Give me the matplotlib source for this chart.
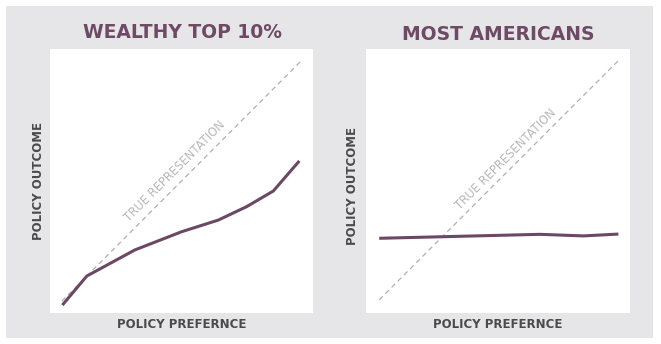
import matplotlib
matplotlib.use("Agg")
import matplotlib.pyplot as plt
from matplotlib.patches import Rectangle

# Data (normalized 0..1 preference vs outcome)
wealthy_x = [0.047, 0.140, 0.323, 0.501, 0.640, 0.748, 0.849, 0.948]
wealthy_y = [0.030, 0.140, 0.239, 0.308, 0.352, 0.403, 0.462, 0.576]
most_x = [0.050, 0.293, 0.659, 0.823, 0.956]
most_y = [0.283, 0.289, 0.298, 0.292, 0.299]
diag_left = [0.045, 0.957]
diag_right = [0.050, 0.958]

titles = ["WEALTHY TOP 10%", "MOST AMERICANS"]
xlabel = "POLICY PREFERNCE"
ylabel = "POLICY OUTCOME"
diag_text = "TRUE REPRESENTATION"

W, H = 661, 344
fig = plt.figure(figsize=(W / 100, H / 100), dpi=100)
fig.patch.set_facecolor("white")

def fx(px):
    return px / W

def fy(py):
    return 1 - py / H

# gray panel background
fig.patches.append(Rectangle((fx(6), fy(338)), fx(653) - fx(6), fy(6) - fy(338),
                             transform=fig.transFigure, facecolor="#e6e6e8",
                             edgecolor="none", zorder=-10))

purple = "#6b4863"
title_col = "#6e4a66"
label_col = "#4a4a4a"
font = ["DejaVu Sans"]

panels = [
    dict(box=(50, 49, 313, 313), x=wealthy_x, y=wealthy_y, diag=diag_left,
         txt=(0.475, 0.537), title_xy=(182, 32), xl=(182, 324), yl=(38, 181)),
    dict(box=(366, 49, 630, 313), x=most_x, y=most_y, diag=diag_right,
         txt=(0.530, 0.583), title_xy=(498, 35), xl=(498, 324), yl=(353, 186)),
]

for i, p in enumerate(panels):
    x0, y0, x1, y1 = p["box"]
    ax = fig.add_axes([fx(x0), fy(y1), fx(x1) - fx(x0), fy(y0) - fy(y1)])
    ax.set_zorder(1)
    ax.set_facecolor("white")
    for s in ax.spines.values():
        s.set_visible(False)
    ax.set_xticks([])
    ax.set_yticks([])
    ax.set_xlim(0, 1)
    ax.set_ylim(0, 1)
    d = p["diag"]
    ax.plot(d, d, color="#b0b0b0", lw=0.9, ls=(0, (4, 3)), zorder=1)
    ax.plot(p["x"], p["y"], color=purple, lw=2.2, solid_capstyle="butt", zorder=2)
    ax.text(p["txt"][0], p["txt"][1], diag_text, rotation=45, rotation_mode="anchor",
            ha="center", va="center", fontsize=8.3, color="#b8b8b8", family=font)
    fig.text(fx(p["title_xy"][0]), fy(p["title_xy"][1]), titles[i], ha="center", va="center",
             fontsize=13.5, fontweight="bold", color=title_col, family=font)
    fig.text(fx(p["xl"][0]), fy(p["xl"][1]), xlabel, ha="center", va="center",
             fontsize=8.5, fontweight="bold", color=label_col, family=font)
    fig.text(fx(p["yl"][0]), fy(p["yl"][1]), ylabel, ha="center", va="center",
             fontsize=8.5, fontweight="bold", color=label_col, rotation=90, family=font)

fig.savefig("out.png", dpi=100, facecolor="white")
